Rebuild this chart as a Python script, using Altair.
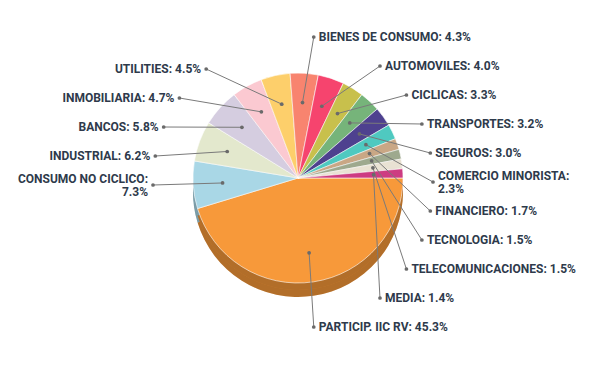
import math
import altair as alt
import pandas as pd

# ---- data ----
sectors = [
    "PARTICIP. IIC RV", "CONSUMO NO CICLICO", "INDUSTRIAL", "BANCOS",
    "INMOBILIARIA", "UTILITIES", "BIENES DE CONSUMO", "AUTOMOVILES",
    "CICLICAS", "TRANSPORTES", "SEGUROS", "COMERCIO MINORISTA",
    "FINANCIERO", "TECNOLOGIA", "TELECOMUNICACIONES", "MEDIA",
]
values = [45.3, 7.3, 6.2, 5.8, 4.7, 4.5, 4.3, 4.0, 3.3, 3.2, 3.0, 2.3, 1.7, 1.5, 1.5, 1.4]
colors = [
    "#F7993A", "#A9D7E6", "#E3E8CD", "#D5CDE0", "#FBC9D1", "#FDCF6B",
    "#F8846F", "#F6446E", "#C8C04C", "#76B47A", "#4E418F", "#4FC9C0",
    "#C9A785", "#9EA98E", "#E9E2D3", "#CD3C82",
]
wrapped = {"CONSUMO NO CICLICO", "COMERCIO MINORISTA"}

# ---- layout ----
W, H = 579, 357
CX, CY = 290, 170          # pie centre (chart px)
R = 105                    # pie radius
DEPTH = 14
LCX, LCY = 290, 174        # label ring centre
RX_R, RX_L, RY = 135, 145, 146
STEP = 29
LH = 13                    # text line height

df = pd.DataFrame({"name": sectors, "value": values})
df["idx"] = range(len(df))
df["t1"] = df["value"].cumsum()
df["t0"] = df["t1"] - df["value"]
df["mid"] = (90 + 3.6 * (df["t0"] + df["t1"]) / 2) % 360
rad = df["mid"] * math.pi / 180
df["ax"] = CX + 0.72 * R * rad.apply(math.sin)
df["ay"] = CY - 0.72 * R * rad.apply(math.cos)
df["side"] = ["L" if 180 < m < 360 else "R" for m in df["mid"]]
df["label"] = [
    f"{n}:\n{v:.1f}%" if n in wrapped else f"{n}: {v:.1f}%"
    for n, v in zip(df["name"], df["value"])
]

right = df[df["side"] == "R"].sort_values("mid")
left = df[df["side"] == "L"].sort_values("mid", ascending=False)
ly = {}
for k, i in enumerate(right.index):
    ly[i] = 29 + STEP * k
nL = len(left)
for k, i in enumerate(left.index):
    ly[i] = 177 - STEP * (nL - 1 - k)
df["ly"] = df.index.map(ly)


def ring_x(row):
    dy = (row["ly"] - LCY) / RY
    f = math.sqrt(max(0.0, 1 - dy * dy))
    return LCX + (RX_R * f if row["side"] == "R" else -RX_L * f)


df["lx"] = df.apply(ring_x, axis=1)
df["tx"] = [x + 5 if s == "R" else x - 5 for x, s in zip(df["lx"], df["side"])]
df["ty"] = [y - LH / 2 if n in wrapped else y for y, n in zip(df["ly"], df["name"])]

xs = alt.Scale(domain=[0, W], nice=False, zero=False)
ys = alt.Scale(domain=[0, H], nice=False, zero=False, reverse=True)
ts = alt.Scale(domain=[0, 100], range=[math.pi / 2, math.pi / 2 + 2 * math.pi])
cs = alt.Scale(domain=sectors, range=colors)

base = alt.Chart(df)


def pie(dy, **mark):
    enc = dict(
        theta=alt.Theta("t0:Q", scale=ts), theta2="t1:Q",
        x=alt.value(CX), y=alt.value(CY + dy),
    )
    if "color" not in mark:
        enc["color"] = alt.Color("name:N", scale=cs, legend=None)
    return base.mark_arc(radius=R, **mark).encode(**enc)


depth = pie(DEPTH)
shade = pie(DEPTH, color="#000000", opacity=0.28)
depth_mid = pie(DEPTH / 2)
shade_mid = pie(DEPTH / 2, color="#000000", opacity=0.28)
top = pie(0, stroke="#FFFFFF", strokeWidth=0.6)

lines = base.mark_rule(color="#7A7A7A", strokeWidth=1).encode(
    x=alt.X("ax:Q", scale=xs, axis=None), x2="lx:Q",
    y=alt.Y("ay:Q", scale=ys, axis=None), y2="ly:Q",
)
dots_a = base.mark_circle(color="#6A6A6A", opacity=1, size=14).encode(
    x=alt.X("ax:Q", scale=xs, axis=None), y=alt.Y("ay:Q", scale=ys, axis=None)
)
dots_l = base.mark_circle(color="#6A6A6A", opacity=1, size=14).encode(
    x=alt.X("lx:Q", scale=xs, axis=None), y=alt.Y("ly:Q", scale=ys, axis=None)
)

font = "Roboto"
txt_style = dict(baseline="middle", font=font, fontSize=12, fontWeight="bold",
                 color="#2E3A4B", lineBreak="\n", lineHeight=LH)
txt_r = base.transform_filter(alt.datum.side == "R").mark_text(
    align="left", **txt_style
).encode(
    x=alt.X("tx:Q", scale=xs, axis=None), y=alt.Y("ty:Q", scale=ys, axis=None), text="label:N"
)
txt_l = base.transform_filter(alt.datum.side == "L").mark_text(
    align="right", **txt_style
).encode(
    x=alt.X("tx:Q", scale=xs, axis=None), y=alt.Y("ty:Q", scale=ys, axis=None), text="label:N"
)

chart = alt.layer(
    depth, shade, depth_mid, shade_mid, top, lines, dots_a, dots_l, txt_r, txt_l
).properties(
    width=W, height=H, padding=0,
    autosize=alt.AutoSizeParams(type="none"),
).configure_view(stroke=None)

chart.save("out.html", embed_options={"renderer": "svg", "actions": False})
